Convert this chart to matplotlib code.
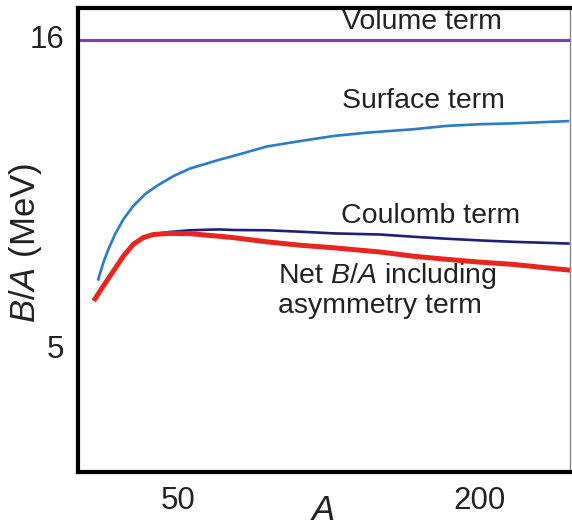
import matplotlib
matplotlib.use("Agg")
import matplotlib.pyplot as plt

plt.rcParams['font.family'] = ['Liberation Sans', 'DejaVu Sans']
plt.rcParams['mathtext.fontset'] = 'custom'
plt.rcParams['mathtext.rm'] = 'Liberation Sans'
plt.rcParams['mathtext.it'] = 'Liberation Sans:italic'

# Data
volume_A = [0, 245]
volume_BA = [15.86, 15.86]

surface_A = [10.1, 12.6, 15.1, 18.4, 22.6, 27.5, 33.4, 39.2, 47.5, 55.8, 69.9, 77.2,
             94.0, 110.5, 127.0, 143.8, 166.8, 183.6, 200.2, 216.6, 244.0]
surface_BA = [7.38, 7.97, 8.44, 8.97, 9.51, 9.98, 10.40, 10.69, 11.04, 11.31, 11.61, 11.75,
              12.09, 12.28, 12.46, 12.58, 12.70, 12.82, 12.88, 12.91, 12.99]

coulomb_A = [8.5, 12.6, 17.6, 22.6, 27.5, 32.5, 37.5, 45.8, 55.8, 69.9, 77.3, 94.0,
             110.5, 127.1, 150.4, 167.0, 183.6, 200.2, 216.8, 244.2]
coulomb_BA = [6.69, 7.14, 7.67, 8.20, 8.62, 8.86, 8.98, 9.06, 9.12, 9.15, 9.13, 9.12,
              9.07, 9.01, 8.97, 8.89, 8.82, 8.76, 8.71, 8.65]

net_A = [8.5, 12.6, 17.6, 22.6, 27.5, 32.5, 37.5, 45.8, 55.8, 69.9, 77.3, 94.0,
         110.5, 127.1, 150.4, 167.0, 183.6, 200.2, 216.8, 244.2]
net_BA = [6.69, 7.14, 7.67, 8.20, 8.62, 8.86, 8.97, 9.01, 9.00, 8.91, 8.86, 8.71,
          8.59, 8.50, 8.35, 8.20, 8.09, 7.99, 7.91, 7.71]

x_ticks = [50, 200]
y_ticks = [5, 16]

fig = plt.figure(figsize=(5.72, 5.28), dpi=100)
ax = fig.add_axes([78/572, 1-472/528, (570-78)/572, (472-8)/528])

ax.plot(volume_A, volume_BA, color='#7b3fb8', lw=2.2, solid_capstyle='butt')
ax.plot(surface_A, surface_BA, color='#2a7bc8', lw=1.9, solid_joinstyle='round')
ax.plot(coulomb_A, coulomb_BA, color='#1c2078', lw=1.9, solid_joinstyle='round')
ax.plot(net_A, net_BA, color='#e8251f', lw=3.6, solid_joinstyle='round')

ax.set_xlim(0, 245)
ax.set_ylim(0.55, 17.0)
ax.set_xticks(x_ticks)
ax.set_yticks(y_ticks)
ax.tick_params(length=0, labelsize=22.5, pad=10, colors='#222222')

for s in ['left', 'top', 'bottom']:
    ax.spines[s].set_linewidth(3.0)
    ax.spines[s].set_color('black')
ax.spines['right'].set_linewidth(1.0)
ax.spines['right'].set_color('#888888')

txt = dict(fontsize=20.5, color='#222222')
ax.text(171.1, 16.51, 'Volume term', ha='center', va='center', **txt)
ax.text(171.8, 13.69, 'Surface term', ha='center', va='center', **txt)
ax.text(175.8, 9.62, 'Coulomb term', ha='center', va='center', **txt)
ax.text(99.6, 7.49, 'Net $B/A$ including', ha='left', va='center', **txt)
ax.text(99.6, 6.42, 'asymmetry term', ha='left', va='center', **txt)

fig.text(323/572, 1-510/528, '$A$', ha='center', va='center', fontsize=25, color='#222222')
fig.text(25/572, 1-243/528, '$B/A$ (MeV)', ha='center', va='center', rotation=90, fontsize=25, color='#222222')

fig.savefig('out.png', dpi=100)
